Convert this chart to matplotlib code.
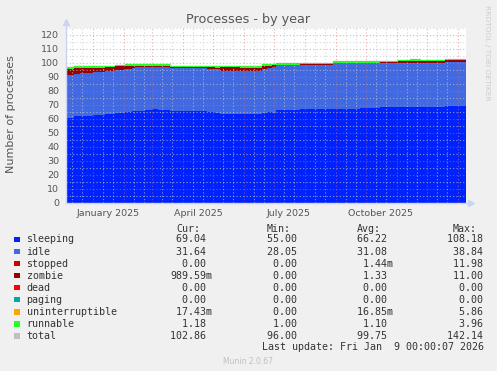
import numpy as np
import pandas as pd
import matplotlib
matplotlib.use('Agg')
import matplotlib.pyplot as plt
from matplotlib.patches import Rectangle

W, H = 497, 371

# change points of the stacked series (values hold until the next date)
dates = ['2024-12-05', '2024-12-13', '2024-12-19', '2025-01-01', '2025-01-13',
         '2025-01-23', '2025-02-02', '2025-02-09', '2025-02-12', '2025-02-22',
         '2025-03-01', '2025-03-07', '2025-03-19', '2025-04-25', '2025-05-03',
         '2025-05-08', '2025-05-28', '2025-06-19', '2025-06-24', '2025-06-29',
         '2025-07-03', '2025-07-27', '2025-08-29', '2025-09-25', '2025-10-15',
         '2025-11-02', '2025-11-14', '2025-11-24', '2025-12-19']
end_date = '2026-01-09'

sleeping = [61, 62, 62.5, 63, 63.5, 64.5, 65, 66, 66, 66.5, 67, 66.5, 65.5, 65, 64,
            63.5, 63.5, 64.3, 65, 64.5, 66.5, 66.8, 67.5, 68, 68.6, 68.6, 68.6, 68.3, 69]
idle = [30.5, 30.3, 30.1, 30.5, 30.5, 30.7, 31.0, 30.5, 30.9, 30.7, 30.4, 30.9, 30.8,
        31.0, 31.8, 31.0, 30.5, 31.7, 31.5, 33.0, 32.1, 32.0, 32.3, 32.0, 31.6, 31.6,
        31.7, 32.0, 31.9]
stopped = [0.0] * 29
zombie = [4.5, 4.3, 4.0, 3.2, 3.0, 2.5, 2.0, 1.5, 1.2, 1.0, 0.5, 0.5, 0.7, 0.8, 0.9,
          2.3, 2.5, 2.0, 1.5, 1.0, 0.2, 0.2, 0.3, 0.3, 0.4, 1.0, 1.0, 1.0, 1.0]
dead = [0.0] * 29
paging = [0.0] * 29
uninterruptible = [0.02] * 29
runnable = [1.2, 1.1, 1.1, 1.1, 1.1, 1.1, 1.1, 1.2, 1.1, 1.1, 1.2, 1.1, 1.0, 1.0, 1.0,
            1.0, 1.0, 1.1, 1.2, 1.1, 1.1, 1.2, 1.1, 1.2, 1.1, 1.1, 1.2, 1.1, 1.2]

names = ['sleeping', 'idle', 'stopped', 'zombie', 'dead', 'paging',
         'uninterruptible', 'runnable', 'total']
colors = ['#0022ff', '#4169e1', '#cc0000', '#990000', '#ff0000', '#00aaaa',
          '#ffa500', '#22ff22', '#c0c0c0']

# legend table
cur = ['69.04 ', '31.64 ', '0.00 ', '989.59m', '0.00 ', '0.00 ', '17.43m', '1.18 ', '102.86 ']
mins = ['55.00 ', '28.05 ', '0.00 ', '0.00 ', '0.00 ', '0.00 ', '0.00 ', '1.00 ', '96.00 ']
avgs = ['66.22 ', '31.08 ', '1.44m', '1.33 ', '0.00 ', '0.00 ', '16.85m', '1.10 ', '99.75 ']
maxs = ['108.18 ', '38.84 ', '11.98 ', '11.00 ', '0.00 ', '0.00 ', '5.86 ', '3.96 ', '142.14 ']

month_labels = ['January 2025', 'April 2025', 'July 2025', 'October 2025']
label_dates = ['2025-01-16', '2025-04-16', '2025-07-16', '2025-10-16']

x = pd.to_datetime(dates + [end_date])
series = [sleeping, idle, stopped, zombie, dead, paging, uninterruptible, runnable]

fig = plt.figure(figsize=(W / 100, H / 100), dpi=100, facecolor='#f0f0f0')
ax = fig.add_axes([66 / W, 1 - 203 / H, 400 / W, 175 / H])
ax.set_facecolor('white')

# stacked areas
bottom = np.zeros(len(x))
for vals, c in zip(series, colors):
    v = np.array(vals + [vals[-1]], dtype=float)
    ax.fill_between(x, bottom, bottom + v, step='post', color=c, lw=0, zorder=2)
    bottom = bottom + v
ax.step(x, bottom, where='post', color='#c0c0c0', lw=1.0, zorder=1.5)

x0, x1 = pd.Timestamp('2024-12-05'), pd.Timestamp(end_date)
ax.set_xlim(x0, x1)
ax.set_ylim(0, 125)

# grid (rrdtool style, over the data)
for yv in range(5, 126, 5):
    if yv % 10 == 0:
        ax.axhline(yv, color='#e07070', alpha=0.55, lw=0.8, ls=(0, (1, 2)), zorder=3)
    else:
        ax.axhline(yv, color='#c8c8c8', alpha=0.7, lw=0.8, ls=(0, (1, 2)), zorder=3)
for d in pd.date_range('2024-12-01', end_date, freq='D'):
    if d < x0:
        continue
    if d.day == 1:
        ax.axvline(d, color='#e07070', alpha=0.55, lw=0.8, ls=(0, (1, 2)), zorder=3)
    elif d.day in (11, 21):
        ax.axvline(d, color='#c8c8c8', alpha=0.7, lw=0.8, ls=(0, (1, 2)), zorder=3)

for s in ax.spines.values():
    s.set_visible(False)
ax.set_yticks(range(0, 121, 10))
ax.set_xticks(pd.to_datetime(label_dates))
ax.set_xticklabels(month_labels)
ax.tick_params(axis='both', length=0, labelsize=6.8, labelcolor='#555555')
ax.tick_params(axis='y', pad=5)
ax.tick_params(axis='x', pad=4)

# axis lines with arrows
ax.plot([0, 0], [0, 1.035], transform=ax.transAxes, color='#ccd4f4', lw=1, clip_on=False, zorder=4)
ax.plot([0, 1.012], [0, 0], transform=ax.transAxes, color='#ccd4f4', lw=1, clip_on=False, zorder=4)
ax.plot([0], [1.035], marker='^', ms=4, color='#ccd4f4', transform=ax.transAxes, clip_on=False)
ax.plot([1.012], [0], marker='>', ms=4, color='#ccd4f4', transform=ax.transAxes, clip_on=False)


def fx(px):
    return px / W


def fy(py):
    return 1 - py / H


fig.text(fx(248), fy(19), 'Processes - by year', ha='center', va='center',
         fontsize=9.2, color='#555555')
fig.text(fx(11), fy(114), 'Number of processes', ha='center', va='center',
         rotation=90, fontsize=8, color='#555555')
fig.text(fx(487), fy(53), 'RRDTOOL / TOBI OETIKER', ha='center', va='center',
         rotation=270, fontsize=5.4, color='#cccccc')

mono = dict(family='DejaVu Sans Mono', fontsize=7.2, color='#333333', va='center')
cw = 6.05
cols = [170, 261, 351, 446.7]
for cx, hdr in zip(cols, ['Cur:', 'Min:', 'Avg:', 'Max:']):
    fig.text(fx(cx + cw), fy(228.5), hdr, **mono)

row_y = 239.5
for i, name in enumerate(names):
    yy = row_y + i * 12.05
    fig.patches.append(Rectangle((fx(14), fy(yy + 2.7)), 5.5 / W, 5.5 / H,
                                 transform=fig.transFigure, color=colors[i], lw=0))
    fig.text(fx(26.5), fy(yy), name, **mono)
    for cx, vals in zip(cols, [cur, mins, avgs, maxs]):
        fig.text(fx(cx), fy(yy), vals[i].rjust(7), **mono)

fig.text(fx(261.5), fy(347.5), 'Last update: Fri Jan  9 00:00:07 2026', **mono)
fig.text(fx(248), fy(361), 'Munin 2.0.67', ha='center', va='center',
         fontsize=5.5, color='#c0c0c0')

fig.savefig('out.png', dpi=100, facecolor=fig.get_facecolor())
